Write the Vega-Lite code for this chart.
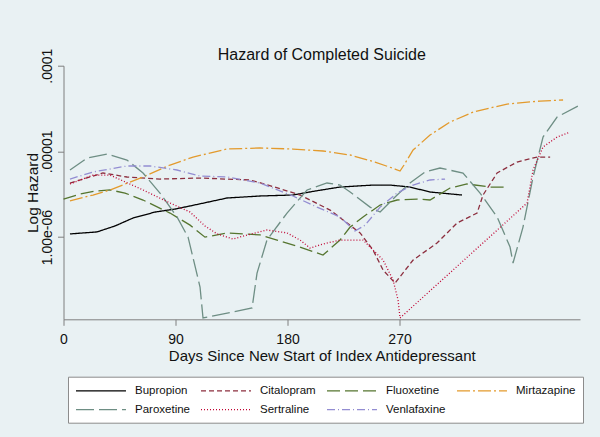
{
  "$schema": "https://vega.github.io/schema/vega-lite/v6.json",
  "width": 516.5,
  "height": 253.6,
  "autosize": "none",
  "padding": {"left": 63.5, "top": 65.7, "right": 20, "bottom": 117.7},
  "background": "#e9f1f3",
  "config": {"view": {"stroke": null}, "font": "Liberation Sans"},
  "title": {"text": "Hazard of Completed Suicide", "fontSize": 16, "fontWeight": "normal", "color": "#111111", "anchor": "middle", "frame": "group", "offset": -15},
  "datasets": {
    "hz": [
      {"drug": "Bupropion", "day": 5.2, "hazard": 1.09e-6},
      {"drug": "Bupropion", "day": 26.9, "hazard": 1.15e-6},
      {"drug": "Bupropion", "day": 41.4, "hazard": 1.35e-6},
      {"drug": "Bupropion", "day": 55.8, "hazard": 1.67e-6},
      {"drug": "Bupropion", "day": 73.5, "hazard": 1.96e-6},
      {"drug": "Bupropion", "day": 89.8, "hazard": 2.13e-6},
      {"drug": "Bupropion", "day": 101.7, "hazard": 2.31e-6},
      {"drug": "Bupropion", "day": 131.4, "hazard": 2.86e-6},
      {"drug": "Bupropion", "day": 157.9, "hazard": 3.02e-6},
      {"drug": "Bupropion", "day": 184.4, "hazard": 3.10e-6},
      {"drug": "Bupropion", "day": 202.1, "hazard": 3.45e-6},
      {"drug": "Bupropion", "day": 222.2, "hazard": 3.84e-6},
      {"drug": "Bupropion", "day": 248.7, "hazard": 4.05e-6},
      {"drug": "Bupropion", "day": 262.4, "hazard": 4.05e-6},
      {"drug": "Bupropion", "day": 278.4, "hazard": 3.84e-6},
      {"drug": "Bupropion", "day": 294.5, "hazard": 3.36e-6},
      {"drug": "Bupropion", "day": 320.2, "hazard": 3.10e-6},

      {"drug": "Citalopram", "day": 5.2, "hazard": 4.28e-6},
      {"drug": "Citalopram", "day": 21.3, "hazard": 5.03e-6},
      {"drug": "Citalopram", "day": 31.7, "hazard": 5.60e-6},
      {"drug": "Citalopram", "day": 51.0, "hazard": 5.03e-6},
      {"drug": "Citalopram", "day": 77.5, "hazard": 4.76e-6},
      {"drug": "Citalopram", "day": 109.7, "hazard": 4.89e-6},
      {"drug": "Citalopram", "day": 149.9, "hazard": 4.64e-6},
      {"drug": "Citalopram", "day": 169.9, "hazard": 3.84e-6},
      {"drug": "Citalopram", "day": 190.0, "hazard": 3.10e-6},
      {"drug": "Citalopram", "day": 214.2, "hazard": 2.07e-6},
      {"drug": "Citalopram", "day": 238.3, "hazard": 1.12e-6},
      {"drug": "Citalopram", "day": 248.7, "hazard": 7.07e-7},
      {"drug": "Citalopram", "day": 256.8, "hazard": 4.13e-7},
      {"drug": "Citalopram", "day": 266.4, "hazard": 2.91e-7},
      {"drug": "Citalopram", "day": 280.9, "hazard": 5.40e-7},
      {"drug": "Citalopram", "day": 300.1, "hazard": 8.53e-7},
      {"drug": "Citalopram", "day": 316.2, "hazard": 1.46e-6},
      {"drug": "Citalopram", "day": 332.3, "hazard": 1.91e-6},
      {"drug": "Citalopram", "day": 337.1, "hazard": 3.10e-6},
      {"drug": "Citalopram", "day": 348.4, "hazard": 5.60e-6},
      {"drug": "Citalopram", "day": 364.4, "hazard": 7.52e-6},
      {"drug": "Citalopram", "day": 380.5, "hazard": 8.60e-6},
      {"drug": "Citalopram", "day": 391.0, "hazard": 8.60e-6},

      {"drug": "Fluoxetine", "day": 0, "hazard": 2.78e-6},
      {"drug": "Fluoxetine", "day": 13.3, "hazard": 3.18e-6},
      {"drug": "Fluoxetine", "day": 25.3, "hazard": 3.45e-6},
      {"drug": "Fluoxetine", "day": 37.4, "hazard": 3.55e-6},
      {"drug": "Fluoxetine", "day": 49.4, "hazard": 3.27e-6},
      {"drug": "Fluoxetine", "day": 63.9, "hazard": 2.71e-6},
      {"drug": "Fluoxetine", "day": 85.6, "hazard": 1.91e-6},
      {"drug": "Fluoxetine", "day": 101.7, "hazard": 1.38e-6},
      {"drug": "Fluoxetine", "day": 113.7, "hazard": 1.00e-6},
      {"drug": "Fluoxetine", "day": 131.4, "hazard": 1.12e-6},
      {"drug": "Fluoxetine", "day": 157.9, "hazard": 1.06e-6},
      {"drug": "Fluoxetine", "day": 171.6, "hazard": 9.25e-7},
      {"drug": "Fluoxetine", "day": 190.0, "hazard": 7.66e-7},
      {"drug": "Fluoxetine", "day": 208.5, "hazard": 6.18e-7},
      {"drug": "Fluoxetine", "day": 222.2, "hazard": 9.25e-7},
      {"drug": "Fluoxetine", "day": 230.3, "hazard": 1.31e-6},
      {"drug": "Fluoxetine", "day": 240.7, "hazard": 1.72e-6},
      {"drug": "Fluoxetine", "day": 254.4, "hazard": 2.37e-6},
      {"drug": "Fluoxetine", "day": 268.0, "hazard": 2.71e-6},
      {"drug": "Fluoxetine", "day": 284.1, "hazard": 2.78e-6},
      {"drug": "Fluoxetine", "day": 294.5, "hazard": 2.71e-6},
      {"drug": "Fluoxetine", "day": 310.6, "hazard": 3.74e-6},
      {"drug": "Fluoxetine", "day": 324.2, "hazard": 4.17e-6},
      {"drug": "Fluoxetine", "day": 342.7, "hazard": 3.84e-6},
      {"drug": "Fluoxetine", "day": 357.2, "hazard": 3.84e-6},

      {"drug": "Mirtazapine", "day": 5.2, "hazard": 2.64e-6},
      {"drug": "Mirtazapine", "day": 23.7, "hazard": 3.10e-6},
      {"drug": "Mirtazapine", "day": 37.4, "hazard": 3.55e-6},
      {"drug": "Mirtazapine", "day": 63.9, "hazard": 5.03e-6},
      {"drug": "Mirtazapine", "day": 85.6, "hazard": 6.94e-6},
      {"drug": "Mirtazapine", "day": 104.1, "hazard": 8.60e-6},
      {"drug": "Mirtazapine", "day": 131.4, "hazard": 1.066e-5},
      {"drug": "Mirtazapine", "day": 157.9, "hazard": 1.096e-5},
      {"drug": "Mirtazapine", "day": 184.4, "hazard": 1.066e-5},
      {"drug": "Mirtazapine", "day": 208.5, "hazard": 1.011e-5},
      {"drug": "Mirtazapine", "day": 230.3, "hazard": 9.08e-6},
      {"drug": "Mirtazapine", "day": 250.3, "hazard": 7.52e-6},
      {"drug": "Mirtazapine", "day": 266.4, "hazard": 6.23e-6},
      {"drug": "Mirtazapine", "day": 270.4, "hazard": 5.91e-6},
      {"drug": "Mirtazapine", "day": 273.6, "hazard": 6.94e-6},
      {"drug": "Mirtazapine", "day": 280.9, "hazard": 1.038e-5},
      {"drug": "Mirtazapine", "day": 294.5, "hazard": 1.553e-5},
      {"drug": "Mirtazapine", "day": 310.6, "hazard": 2.20e-5},
      {"drug": "Mirtazapine", "day": 329.1, "hazard": 2.88e-5},
      {"drug": "Mirtazapine", "day": 356.4, "hazard": 3.57e-5},
      {"drug": "Mirtazapine", "day": 382.9, "hazard": 3.87e-5},
      {"drug": "Mirtazapine", "day": 401.4, "hazard": 3.98e-5},

      {"drug": "Paroxetine", "day": 5.2, "hazard": 6.07e-6},
      {"drug": "Paroxetine", "day": 18.9, "hazard": 8.37e-6},
      {"drug": "Paroxetine", "day": 35.0, "hazard": 9.32e-6},
      {"drug": "Paroxetine", "day": 51.0, "hazard": 7.94e-6},
      {"drug": "Paroxetine", "day": 63.9, "hazard": 5.60e-6},
      {"drug": "Paroxetine", "day": 77.5, "hazard": 3.27e-6},
      {"drug": "Paroxetine", "day": 91.2, "hazard": 1.72e-6},
      {"drug": "Paroxetine", "day": 100.1, "hazard": 1.00e-6},
      {"drug": "Paroxetine", "day": 109.7, "hazard": 2.62e-7},
      {"drug": "Paroxetine", "day": 112.1, "hazard": 1.14e-7},
      {"drug": "Paroxetine", "day": 151.5, "hazard": 1.49e-7},
      {"drug": "Paroxetine", "day": 155.5, "hazard": 3.81e-7},
      {"drug": "Paroxetine", "day": 163.5, "hazard": 9.25e-7},
      {"drug": "Paroxetine", "day": 179.6, "hazard": 1.91e-6},
      {"drug": "Paroxetine", "day": 195.7, "hazard": 3.55e-6},
      {"drug": "Paroxetine", "day": 211.7, "hazard": 4.28e-6},
      {"drug": "Paroxetine", "day": 222.2, "hazard": 4.05e-6},
      {"drug": "Paroxetine", "day": 230.3, "hazard": 3.36e-6},
      {"drug": "Paroxetine", "day": 246.3, "hazard": 2.24e-6},
      {"drug": "Paroxetine", "day": 254.4, "hazard": 1.96e-6},
      {"drug": "Paroxetine", "day": 266.4, "hazard": 2.94e-6},
      {"drug": "Paroxetine", "day": 278.4, "hazard": 4.28e-6},
      {"drug": "Paroxetine", "day": 290.5, "hazard": 5.75e-6},
      {"drug": "Paroxetine", "day": 302.5, "hazard": 6.40e-6},
      {"drug": "Paroxetine", "day": 321.0, "hazard": 5.60e-6},
      {"drug": "Paroxetine", "day": 334.7, "hazard": 3.27e-6},
      {"drug": "Paroxetine", "day": 348.4, "hazard": 1.72e-6},
      {"drug": "Paroxetine", "day": 358.8, "hazard": 7.66e-7},
      {"drug": "Paroxetine", "day": 361.2, "hazard": 4.99e-7},
      {"drug": "Paroxetine", "day": 369.2, "hazard": 1.31e-6},
      {"drug": "Paroxetine", "day": 377.3, "hazard": 5.03e-6},
      {"drug": "Paroxetine", "day": 385.3, "hazard": 1.472e-5},
      {"drug": "Paroxetine", "day": 396.6, "hazard": 2.52e-5},
      {"drug": "Paroxetine", "day": 415.1, "hazard": 3.48e-5},

      {"drug": "Sertraline", "day": 5.2, "hazard": 4.17e-6},
      {"drug": "Sertraline", "day": 23.7, "hazard": 5.30e-6},
      {"drug": "Sertraline", "day": 37.4, "hazard": 5.30e-6},
      {"drug": "Sertraline", "day": 63.9, "hazard": 3.55e-6},
      {"drug": "Sertraline", "day": 85.6, "hazard": 2.50e-6},
      {"drug": "Sertraline", "day": 101.7, "hazard": 1.96e-6},
      {"drug": "Sertraline", "day": 113.7, "hazard": 1.35e-6},
      {"drug": "Sertraline", "day": 123.4, "hazard": 1.09e-6},
      {"drug": "Sertraline", "day": 136.2, "hazard": 9.50e-7},
      {"drug": "Sertraline", "day": 147.5, "hazard": 1.06e-6},
      {"drug": "Sertraline", "day": 163.5, "hazard": 1.21e-6},
      {"drug": "Sertraline", "day": 179.6, "hazard": 1.12e-6},
      {"drug": "Sertraline", "day": 190.0, "hazard": 9.25e-7},
      {"drug": "Sertraline", "day": 198.1, "hazard": 7.46e-7},
      {"drug": "Sertraline", "day": 208.5, "hazard": 8.31e-7},
      {"drug": "Sertraline", "day": 222.2, "hazard": 9.25e-7},
      {"drug": "Sertraline", "day": 240.7, "hazard": 9.25e-7},
      {"drug": "Sertraline", "day": 246.3, "hazard": 7.66e-7},
      {"drug": "Sertraline", "day": 256.8, "hazard": 5.40e-7},
      {"drug": "Sertraline", "day": 264.8, "hazard": 3.16e-7},
      {"drug": "Sertraline", "day": 268.8, "hazard": 1.85e-7},
      {"drug": "Sertraline", "day": 270.4, "hazard": 1.14e-7},
      {"drug": "Sertraline", "day": 372.5, "hazard": 2.50e-6},
      {"drug": "Sertraline", "day": 377.3, "hazard": 6.07e-6},
      {"drug": "Sertraline", "day": 385.3, "hazard": 1.125e-5},
      {"drug": "Sertraline", "day": 396.6, "hazard": 1.472e-5},
      {"drug": "Sertraline", "day": 407.0, "hazard": 1.68e-5},

      {"drug": "Venlafaxine", "day": 5.2, "hazard": 4.76e-6},
      {"drug": "Venlafaxine", "day": 23.7, "hazard": 5.75e-6},
      {"drug": "Venlafaxine", "day": 51.0, "hazard": 6.76e-6},
      {"drug": "Venlafaxine", "day": 69.5, "hazard": 6.76e-6},
      {"drug": "Venlafaxine", "day": 91.2, "hazard": 6.07e-6},
      {"drug": "Venlafaxine", "day": 109.7, "hazard": 5.16e-6},
      {"drug": "Venlafaxine", "day": 131.4, "hazard": 5.03e-6},
      {"drug": "Venlafaxine", "day": 157.9, "hazard": 4.28e-6},
      {"drug": "Venlafaxine", "day": 184.4, "hazard": 3.02e-6},
      {"drug": "Venlafaxine", "day": 203.7, "hazard": 2.24e-6},
      {"drug": "Venlafaxine", "day": 222.2, "hazard": 1.72e-6},
      {"drug": "Venlafaxine", "day": 234.2, "hazard": 1.18e-6},
      {"drug": "Venlafaxine", "day": 242.3, "hazard": 1.38e-6},
      {"drug": "Venlafaxine", "day": 254.4, "hazard": 2.24e-6},
      {"drug": "Venlafaxine", "day": 268.0, "hazard": 3.27e-6},
      {"drug": "Venlafaxine", "day": 280.9, "hazard": 4.05e-6},
      {"drug": "Venlafaxine", "day": 294.5, "hazard": 4.64e-6},
      {"drug": "Venlafaxine", "day": 306.6, "hazard": 4.76e-6}
    ]
  },
  "data": {"name": "hz"},
  "mark": {"type": "line", "strokeWidth": 1.3, "interpolate": "linear"},
  "encoding": {
    "x": {
      "field": "day", "type": "quantitative",
      "scale": {"domain": [0, 415], "nice": false, "zero": false},
      "axis": {
        "values": [0, 90, 180, 270],
        "title": "Days Since New Start of Index Antidepressant",
        "grid": false, "domainColor": "#7f7f7f", "tickColor": "#7f7f7f", "tickSize": 6,
        "labelFontSize": 14, "labelColor": "#111111", "labelPadding": 7, "labelFlush": false,
        "titleFontSize": 15, "titleFontWeight": "normal", "titleColor": "#111111", "titlePadding": 2
      }
    },
    "y": {
      "field": "hazard", "type": "quantitative",
      "scale": {"type": "log", "domain": [1.1e-7, 1e-4], "nice": false},
      "axis": {
        "values": [1e-6, 1e-5, 1e-4],
        "labelExpr": "datum.value < 3e-6 ? '1.00e-06' : (datum.value < 3e-5 ? '.00001' : '.0001')",
        "title": "Log Hazard",
        "grid": false, "domainColor": "#7f7f7f", "tickColor": "#7f7f7f", "tickSize": 6,
        "labelFontSize": 14, "labelColor": "#111111", "labelPadding": 3,
        "labelAngle": 270, "labelAlign": "center", "labelBaseline": "bottom", "labelFlush": false,
        "titleFontSize": 15.5, "titleFontWeight": "normal", "titleColor": "#111111", "titlePadding": 0
      }
    },
    "color": {
      "field": "drug", "type": "nominal",
      "scale": {
        "domain": ["Bupropion", "Citalopram", "Fluoxetine", "Mirtazapine", "Paroxetine", "Sertraline", "Venlafaxine"],
        "range": ["#000000", "#8c2e3e", "#55752f", "#e39a2c", "#6e8e84", "#c10534", "#938dd2"]
      },
      "legend": {
        "orient": "none", "legendX": 4.5, "legendY": 311, "columns": 4, "direction": "horizontal", "title": null,
        "symbolType": "M-1,0H7.33", "symbolSize": 144, "symbolStrokeWidth": 1.3,
        "labelFontSize": 11.5, "labelColor": "#111111", "labelOffset": 46, "labelLimit": 0,
        "columnPadding": 8, "rowPadding": 6, "padding": 7,
        "fillColor": "#ffffff", "strokeColor": "#8c8c8c"
      }
    },
    "strokeDash": {
      "field": "drug", "type": "nominal",
      "scale": {
        "domain": ["Bupropion", "Citalopram", "Fluoxetine", "Mirtazapine", "Paroxetine", "Sertraline", "Venlafaxine"],
        "range": [[1, 0], [5, 3], [13, 5], [13, 3, 2, 3], [18, 5], [1, 2], [8, 3, 1, 3]]
      }
    }
  }
}
